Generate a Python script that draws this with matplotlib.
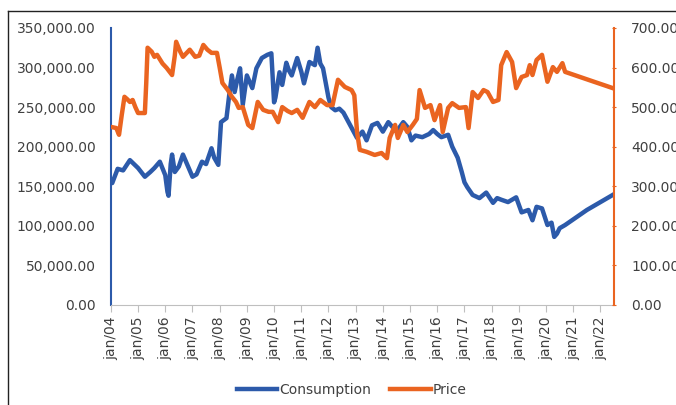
import matplotlib
matplotlib.use("Agg")
from matplotlib import pyplot as plt
from matplotlib.lines import Line2D
from matplotlib.ticker import FuncFormatter

# decimal years
cons_dates = [2004.0, 2004.05, 2004.25, 2004.45, 2004.7, 2004.85, 2005.0, 2005.25, 2005.45, 2005.6,
              2005.8, 2006.0, 2006.08, 2006.12, 2006.2, 2006.25, 2006.35, 2006.5, 2006.65, 2006.8,
              2007.0, 2007.15, 2007.35, 2007.5, 2007.7, 2007.8, 2007.95, 2008.05, 2008.25, 2008.35,
              2008.45, 2008.55, 2008.65, 2008.75, 2008.85, 2009.0, 2009.2, 2009.35, 2009.55, 2009.75,
              2009.9, 2010.0, 2010.05, 2010.2, 2010.3, 2010.45, 2010.55, 2010.65, 2010.85, 2011.0,
              2011.1, 2011.3, 2011.5, 2011.6, 2011.7, 2011.8, 2012.0, 2012.1, 2012.25, 2012.4,
              2012.55, 2012.8, 2013.05, 2013.25, 2013.4, 2013.6, 2013.8, 2014.0, 2014.2, 2014.5,
              2014.75, 2014.9, 2015.05, 2015.2, 2015.45, 2015.7, 2015.85, 2016.0, 2016.15, 2016.4,
              2016.55, 2016.75, 2016.9, 2017.0, 2017.1, 2017.3, 2017.55, 2017.8, 2018.05, 2018.2,
              2018.35, 2018.6, 2018.75, 2018.9, 2019.1, 2019.35, 2019.5, 2019.65, 2019.85, 2020.05,
              2020.2, 2020.3, 2020.4, 2020.5, 2020.7, 2021.5, 2022.45]
cons_values = [155000, 154000, 172000, 170000, 183000, 178000, 173000, 162000, 168000, 173000,
               181000, 164000, 143000, 138000, 178000, 190000, 168000, 175000, 190000, 178000,
               162000, 165000, 181000, 178000, 198000, 186000, 177000, 231000, 236000, 265000,
               290000, 269000, 285000, 299000, 253000, 290000, 274000, 299000, 312000, 316000,
               318000, 256000, 262000, 294000, 278000, 306000, 296000, 290000, 312000, 295000,
               280000, 307000, 303000, 325000, 305000, 299000, 262000, 250000, 246000, 248000,
               243000, 227000, 211000, 219000, 208000, 227000, 230000, 219000, 231000, 219000,
               231000, 225000, 208000, 214000, 212000, 216000, 221000, 216000, 212000, 215000,
               200000, 186000, 168000, 155000, 149000, 139000, 135000, 142000, 129000, 135000,
               133000, 130000, 133000, 136000, 117000, 120000, 107000, 124000, 122000, 101000,
               104000, 86000, 90000, 97000, 101000, 120000, 139000]

price_dates = [2004.0, 2004.2, 2004.3, 2004.4, 2004.5, 2004.6, 2004.7, 2004.8, 2004.9, 2005.0,
               2005.25, 2005.3, 2005.35, 2005.5, 2005.6, 2005.7, 2005.9, 2006.05, 2006.25, 2006.35,
               2006.4, 2006.55, 2006.65, 2006.9, 2007.1, 2007.25, 2007.4, 2007.55, 2007.7, 2007.9,
               2008.0, 2008.1, 2008.3, 2008.45, 2008.6, 2008.7, 2008.85, 2009.05, 2009.2, 2009.4,
               2009.6, 2009.8, 2009.95, 2010.15, 2010.3, 2010.5, 2010.65, 2010.85, 2011.05, 2011.3,
               2011.5, 2011.7, 2011.95, 2012.15, 2012.35, 2012.6, 2012.85, 2012.95, 2013.05, 2013.15,
               2013.4, 2013.7, 2013.95, 2014.15, 2014.25, 2014.45, 2014.55, 2014.75, 2014.9, 2015.1,
               2015.25, 2015.35, 2015.55, 2015.75, 2015.9, 2016.1, 2016.2, 2016.4, 2016.55, 2016.8,
               2017.05, 2017.15, 2017.3, 2017.5, 2017.7, 2017.85, 2018.05, 2018.25, 2018.35, 2018.55,
               2018.75, 2018.9, 2019.1, 2019.3, 2019.4, 2019.5, 2019.65, 2019.85, 2020.05, 2020.25,
               2020.4, 2020.6, 2020.7, 2021.55, 2022.45]
price_values = [450, 447, 430, 480, 526, 520, 513, 518, 500, 485,
                485, 560, 650, 640, 627, 632, 610, 599, 581, 630,
                665, 640, 627, 645, 627, 630, 657, 645, 637, 637,
                600, 561, 543, 526, 513, 498, 500, 455, 447, 513,
                493, 488, 488, 462, 500, 490, 485, 493, 473, 513,
                500, 518, 505, 505, 569, 551, 543, 530, 437, 392,
                387, 379, 384, 371, 422, 455, 422, 455, 437, 455,
                470, 543, 498, 505, 467, 505, 437, 498, 510, 498,
                500, 447, 538, 523, 543, 538, 513, 518, 606, 639,
                614, 548, 576, 581, 606, 581, 619, 632, 564, 601,
                589, 611, 589, 569, 548]

year_ticks = list(range(2004, 2023))
tick_labels = ["jan/%02d" % (y % 100) for y in year_ticks]

blue = "#2C5AAA"
orange = "#EA6420"
grey_text = "#404040"

fig = plt.figure(figsize=(6.76, 4.05), dpi=100)
ax = fig.add_axes([0.164, 0.247, 0.744, 0.684])
ax2 = ax.twinx()

ax.plot(cons_dates, cons_values, color=blue, lw=3.2, solid_joinstyle="round", label="Consumption")
ax2.plot(price_dates, price_values, color=orange, lw=3.2, solid_joinstyle="round", label="Price")

ax.set_xlim(2004.0, 2022.49)
ax.set_ylim(0, 350000)
ax2.set_ylim(0, 700)
ax.set_yticks(range(0, 350001, 50000))
ax2.set_yticks(range(0, 701, 100))
ax.yaxis.set_major_formatter(FuncFormatter(lambda v, p: "{:,.2f}".format(v)))
ax2.yaxis.set_major_formatter(FuncFormatter(lambda v, p: "{:.2f}".format(v)))
ax.set_xticks(year_ticks)
ax.set_xticklabels(tick_labels, rotation=90)

for a in (ax, ax2):
    for side in ("top", "left", "right", "bottom"):
        a.spines[side].set_visible(False)
ax.spines["left"].set_visible(True)
ax.spines["left"].set_color(blue)
ax.spines["left"].set_linewidth(1.5)
ax.spines["bottom"].set_visible(True)
ax.spines["bottom"].set_color("#BFBFBF")
ax2.spines["right"].set_visible(True)
ax2.spines["right"].set_color(orange)
ax2.spines["right"].set_linewidth(1.5)

ax.tick_params(axis="y", length=0, pad=11, labelsize=10, labelcolor=grey_text)
ax.tick_params(axis="x", length=5, color="#BFBFBF", pad=3, labelsize=10, labelcolor=grey_text)
ax2.tick_params(axis="y", length=3, direction="inout", color=orange, pad=11, labelsize=10,
                labelcolor=grey_text)

# outer frame, only top and left edges are visible in the reference
fig.add_artist(Line2D([0.0118, 1.0], [0.973, 0.973], color="#222222", lw=1.0))
fig.add_artist(Line2D([0.0118, 0.0118], [0.0, 0.973], color="#222222", lw=1.0))

handles = [Line2D([], [], color=blue, lw=3.2), Line2D([], [], color=orange, lw=3.2)]
fig.legend(handles, ["Consumption", "Price"], loc="center", bbox_to_anchor=(0.52, 0.037),
           ncol=2, frameon=False, fontsize=10, handlelength=2.9, handletextpad=0.15,
           columnspacing=1.4, labelcolor=grey_text)

fig.savefig("out.png", dpi=100)
